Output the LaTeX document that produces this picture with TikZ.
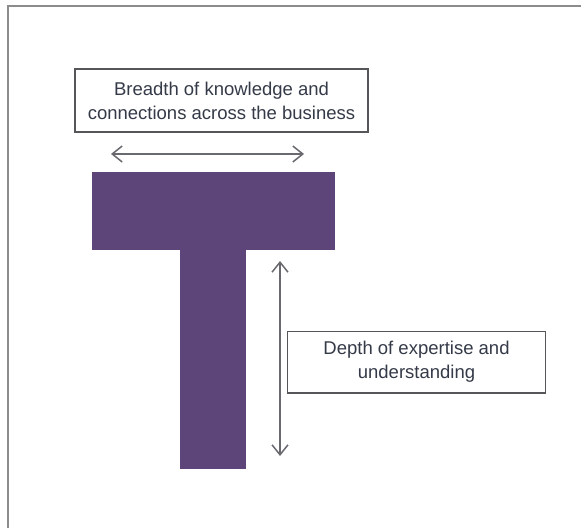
\documentclass[tikz,border=0pt]{standalone}
\usepackage{fontspec}
\setmainfont{Liberation Sans}
\usetikzlibrary{arrows.meta}
\usetikzlibrary{positioning}
\definecolor{tpurple}{RGB}{94,69,121}
\definecolor{tframe}{RGB}{140,140,140}
\definecolor{ttext}{RGB}{52,58,72}
\definecolor{tedge}{RGB}{85,85,90}
\definecolor{tarrow}{RGB}{105,105,112}
\tikzset{labelbox/.style={draw=tedge,line width=0.75pt,fill=white,align=center,text=ttext,font=\fontsize{9.25}{12}\selectfont,inner sep=0pt},
tbar/.style={fill=tpurple,draw=none,inner sep=0pt},
span/.style={draw=tarrow,line width=0.75pt,{Straight Barb[length=5pt,width=8pt]}-{Straight Barb[length=5pt,width=8pt]}}}

\begin{document}
\begin{tikzpicture}[x=0.5pt,y=-0.5pt]
\useasboundingbox (0,0) rectangle (581,528);
\draw[tframe, line width=1pt] (8,528) -- (8,6) -- (581,6);
% the T
\node (bar) at (213,211) [tbar, minimum width=121.5pt, minimum height=39pt] {};
\node (stem) at (212.8,359) [tbar, minimum width=32.8pt, minimum height=110pt] {};
\node (breadth) at (221.5,100.5) [labelbox, minimum width=146.5pt, minimum height=31.5pt] {Breadth of knowledge and\\connections across the business};
\node (depth) at (416.5,362) [labelbox, minimum width=129pt, minimum height=30.75pt] {Depth of expertise and\\understanding};
\coordinate (wl) at (111,154);
\coordinate (wr) at (304,154);
\coordinate (dt) at (280,261);
\coordinate (db) at (280,456);
\draw[span] (wl) -- (wr);
\draw[span] (dt) -- (db);
\end{tikzpicture}
\end{document}
